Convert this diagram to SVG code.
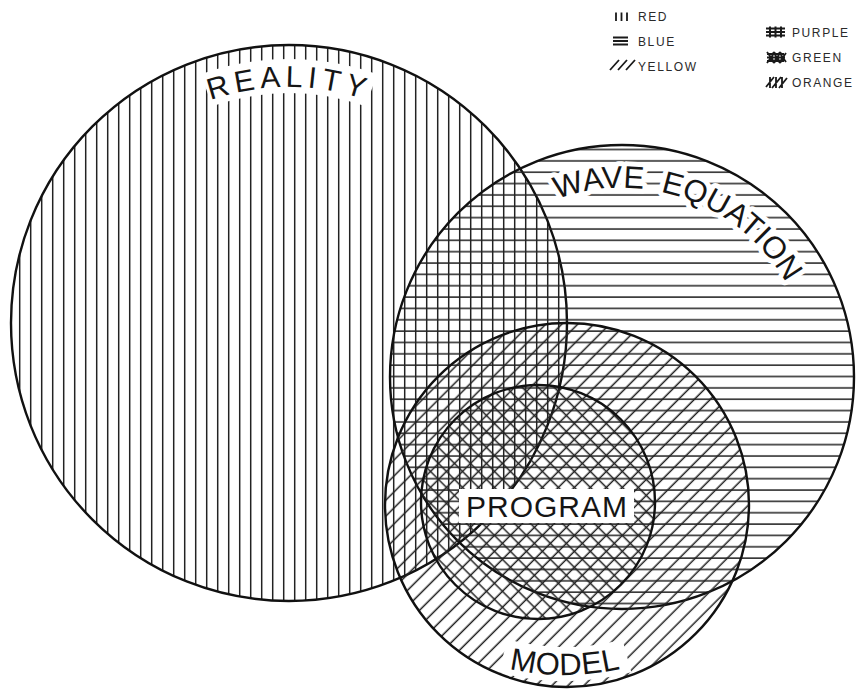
<svg xmlns="http://www.w3.org/2000/svg" width="863" height="693" viewBox="0 0 863 693">
<style>
.h{stroke:#222;stroke-width:1.5;fill:none}
.outline{fill:none;stroke:#111;stroke-width:2.4}
.lbl{font-family:"Liberation Sans",Arial,sans-serif;fill:#151515}
.band{fill:none;stroke:#fff;stroke-width:34}
.ko{fill:#fff;stroke:#fff;stroke-width:10;stroke-linejoin:round}
.lg{font-family:"Liberation Sans",Arial,sans-serif;font-size:12px;letter-spacing:1.6px;fill:#2a2a2a}
.sym{stroke:#1a1a1a;stroke-width:1.8;fill:none}
</style>
<defs>
<pattern id="hV" patternUnits="userSpaceOnUse" width="11" height="20"><line x1="8.7" y1="-1" x2="8.7" y2="21" class="h"/></pattern>
<pattern id="hH" patternUnits="userSpaceOnUse" width="20" height="11.35"><line x1="-1" y1="2" x2="21" y2="2" class="h"/></pattern>
<pattern id="hS" patternUnits="userSpaceOnUse" width="11.3" height="20" patternTransform="rotate(45)"><line x1="5" y1="-1" x2="5" y2="21" class="h"/></pattern>
<pattern id="hB" patternUnits="userSpaceOnUse" width="11.3" height="20" patternTransform="rotate(-45)"><line x1="5" y1="-1" x2="5" y2="21" class="h"/></pattern>
<path id="pReality" d="M 84.6 205 A 236 236 0 0 1 493.4 205"/>
<path id="pWave" d="M 450.7 297.1 A 189 189 0 0 1 804.6 425.9"/>
<path id="pModel" d="M 348.5 550 A 250 250 0 0 0 781.5 550"/>
</defs>
<rect width="863" height="693" fill="#fff"/>

<g id="reality">
<circle cx="289" cy="323" r="278" fill="url(#hV)"/>
<path class="band" d="M 206.6 90.2 A 247 247 0 0 1 371.4 90.2"/>
<circle class="outline" cx="289" cy="323" r="278"/>
<text class="lbl" font-size="30" letter-spacing="5" text-anchor="middle"><textPath href="#pReality" startOffset="50%">REALITY</textPath></text>
</g>

<g id="wave-equation">
<circle cx="622" cy="377" r="232" fill="url(#hH)"/>
<text class="lbl ko" font-size="31" text-anchor="middle"><textPath href="#pWave" startOffset="50%">WAVE&#160; EQUATION</textPath></text>
<circle class="outline" cx="622" cy="377" r="232"/>
<text class="lbl" font-size="31" text-anchor="middle"><textPath href="#pWave" startOffset="50%">WAVE&#160; EQUATION</textPath></text>
</g>

<g id="model">
<circle cx="567" cy="505" r="182" fill="url(#hS)"/>
<path class="band" d="M 503.1 655.9 A 239 239 0 0 0 626.9 655.9"/>
<circle class="outline" cx="567" cy="505" r="182"/>
<text class="lbl" font-size="31" letter-spacing="0.5" text-anchor="middle"><textPath href="#pModel" startOffset="50%">MODEL</textPath></text>
</g>

<g id="program">
<circle cx="538" cy="502" r="117" fill="url(#hB)"/>
<circle class="outline" cx="538" cy="502" r="117"/>
<rect x="459" y="489" width="175" height="34" fill="#fff"/>
<text class="lbl" x="547" y="517" font-size="30" letter-spacing="1" text-anchor="middle">PROGRAM</text>
</g>

<g id="legend">
<g class="sym">
<path d="M616 12.5V21M621.5 12.5V21M627 12.5V21"/>
<path d="M613 37.5H628M613 41H628M613 44.5H628"/>
<path d="M610 70L619 60M618 70L627 60M626 70L635 60"/>
<path d="M770 26.5V37.5M775.5 26.5V37.5M781 26.5V37.5M766 28.5H785M766 32H785M766 35.5H785" stroke-width="2"/>
<path d="M767 54H784M767 57.5H785M767 61H784M767 63L775 52M773 63L781 52M779 63L786 53M767 52L775 63M773 52L781 63M779 52L786 62"/>
<path d="M770 77V88M776 77V88M782 77V88M766 87L774 77M772 88L781 77M779 88L787 78"/>
</g>
<text class="lg" x="638" y="20.5">RED</text>
<text class="lg" x="638" y="45.5">BLUE</text>
<text class="lg" x="638" y="70.5">YELLOW</text>
<text class="lg" x="792" y="37">PURPLE</text>
<text class="lg" x="792" y="62">GREEN</text>
<text class="lg" x="792" y="87">ORANGE</text>
</g>
</svg>
